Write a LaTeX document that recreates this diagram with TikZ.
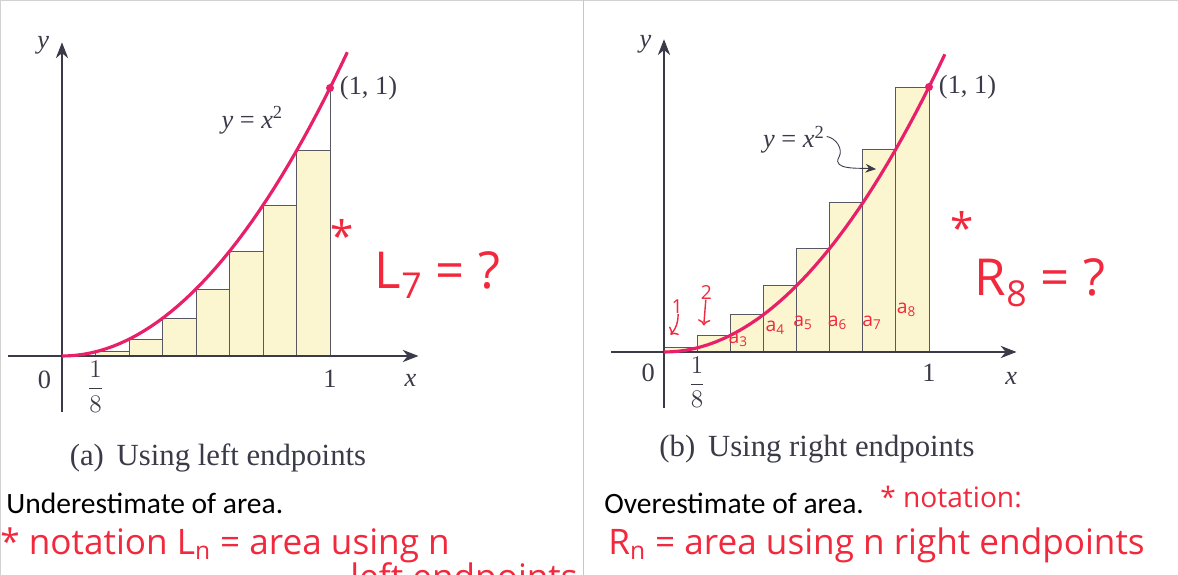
\documentclass[tikz,border=0pt]{standalone}
\usepackage{fontspec}
\setmainfont{Liberation Serif}
\newfontfamily\calibri{Carlito}
\newfontfamily\hand{Open Sans}
\usetikzlibrary{arrows.meta,positioning}
\definecolor{curvered}{HTML}{E8206A}
\definecolor{inkred}{HTML}{F2283C}
\definecolor{boxfill}{HTML}{FBF6CF}
\definecolor{printgray}{HTML}{3A3A48}
\tikzset{
  axis/.style={draw=printgray,line width=0.6pt,-{Stealth[length=9pt,width=7pt]}},
  bar/.style={draw=printgray!85,line width=0.5pt,fill=boxfill},
  parab/.style={draw=curvered,line width=1.8pt},
  lbl/.style={text=printgray,font=\fontsize{15}{17}\selectfont,inner sep=1pt},
  ink/.style={text=inkred,font=\hand\fontsize{20}{22}\selectfont,inner sep=0pt},
  smallink/.style={text=inkred,font=\hand\fontsize{11}{12}\selectfont,inner sep=0pt},
  dot/.style={fill=curvered,circle,inner sep=0pt,minimum size=0.16cm},
}

\begin{document}
\begin{tikzpicture}
\useasboundingbox (0,0) rectangle (23.56,11.5);
% the frame and the line between the two panels
\draw[gray!35] (0,0) rectangle (23.56,11.5);
\draw[gray!45] (11.66,0) -- (11.66,11.5);

% (a) left endpoints
\begin{scope}[shift={(1.24,4.38)},x=5.36cm,y=5.36cm]
% the rectangles
\foreach \i in {1,...,7}
  \draw[bar] (\i/8,0) rectangle ({(\i+1)/8},{(\i/8)^2});
\draw[bar] (1,0) -- (1,1);
% the axes
\draw[axis] (-0.2,0) -- (1.33,0);
\draw[axis] (0,-0.21) -- (0,1.17);
% the curve
\draw[parab,domain=0:1.065,samples=40] plot (\x,{\x*\x});
\node[dot] (pa) at (1,1) {};
% the labels
\node[lbl,right=2pt of pa] (paxy) {(1, 1)};
\node[lbl] (pafn) at (0.71,0.88) {\textit{y} = \textit{x}\textsuperscript{2}};
\node[lbl] (pay) at (-0.07,1.16) {\textit{y}};
\node[lbl] (pax) at (1.30,-0.09) {\textit{x}};
\node[lbl] (pazero) at (-0.065,-0.09) {0};
\node[lbl] (paone) at (1,-0.085) {1};
\node[lbl] (paeighth) at (0.125,-0.115) {$\displaystyle\frac{1}{8}$};
\end{scope}

% (b) right endpoints
\begin{scope}[shift={(13.28,4.46)},x=5.3cm,y=5.3cm]
% the rectangles
\foreach \i in {1,...,8}
  \draw[bar] ({(\i-1)/8},0) rectangle (\i/8,{(\i/8)^2});
% the axes
\draw[axis] (-0.2,0) -- (1.33,0);
\draw[axis] (0,-0.21) -- (0,1.18);
% the curve
\draw[parab,domain=0:1.06,samples=40] plot (\x,{\x*\x});
\node[dot] (pb) at (1,1) {};
% the labels
\node[lbl,right=2pt of pb] (pbxy) {(1, 1)};
\node[lbl] (pbfn) at (0.49,0.80) {\textit{y} = \textit{x}\textsuperscript{2}};
\coordinate (pbtip) at (0.80,0.69);
\draw[printgray,line width=0.5pt,-{Stealth[length=6pt,width=5pt]}]
  ([yshift=2pt]pbfn.east) to[out=-10,in=60] (0.66,0.735) to[out=240,in=175] (pbtip);
\node[lbl] (pby) at (-0.07,1.16) {\textit{y}};
\node[lbl] (pbx) at (1.31,-0.1) {\textit{x}};
\node[lbl] (pbzero) at (-0.06,-0.08) {0};
\node[lbl] (pbone) at (1,-0.08) {1};
\node[lbl] (pbeighth) at (0.125,-0.115) {$\displaystyle\frac{1}{8}$};
% the handwritten rectangle marks
\node[smallink] (mk1) at (0.05,0.17) {1};
\coordinate (mk1tip) at (0.025,0.065);
\draw[inkred,line width=0.8pt,->] (mk1) to[bend left=20] (mk1tip);
\node[smallink] (mk2) at (0.16,0.225) {2};
\coordinate (mk2tip) at (0.15,0.10);
\draw[inkred,line width=0.8pt,->] (mk2) -- (mk2tip);
\node[smallink] (mk3) at (0.28,0.045) {a\textsubscript{3}};
\node[smallink] (mk4) at (0.42,0.09) {a\textsubscript{4}};
\node[smallink] (mk5) at (0.525,0.11) {a\textsubscript{5}};
\node[smallink] (mk6) at (0.655,0.11) {a\textsubscript{6}};
\node[smallink] (mk7) at (0.785,0.11) {a\textsubscript{7}};
\node[smallink] (mk8) at (0.915,0.16) {a\textsubscript{8}};
\end{scope}

% the captions
\node[text=printgray,font=\fontsize{17.5}{20}\selectfont] (capa) at (4.36,2.34) {(a)\, Using left endpoints};
\node[text=printgray,font=\fontsize{17.5}{20}\selectfont] (capb) at (16.34,2.52) {(b)\, Using right endpoints};
\node[anchor=west,font=\calibri\fontsize{16.8}{19}\selectfont,inner sep=0pt] (undr) at (0.12,1.44) {Underestimate of area.};
\node[anchor=west,font=\calibri\fontsize{16.8}{19}\selectfont,inner sep=0pt] (over) at (12.08,1.44) {Overestimate of area.};

% the handwritten notes
\node[ink,font=\hand\fontsize{24}{24}\selectfont] (stara) at (6.85,6.8) {*};
\node[ink,font=\hand\fontsize{29}{31}\selectfont] (lseven) at (8.75,6.0) {L\textsubscript{7} = ?};
\node[ink,font=\hand\fontsize{24}{24}\selectfont] (starb) at (19.25,6.95) {*};
\node[ink,font=\hand\fontsize{29}{31}\selectfont] (reight) at (20.8,5.85) {R\textsubscript{8} = ?};
\node[ink,anchor=west,font=\hand\fontsize{16}{18}\selectfont] (nota) at (17.6,1.56) {* notation:};
\node[ink,anchor=west] (notb) at (0,0.6) {* notation L\textsubscript{n} = area using n};
\node[ink,anchor=base west] (notc) at (7.0,-0.3) {left endpoints};
\node[ink,anchor=west] (notd) at (12.16,0.6) {R\textsubscript{n} = area using n right endpoints};
\end{tikzpicture}
\end{document}
